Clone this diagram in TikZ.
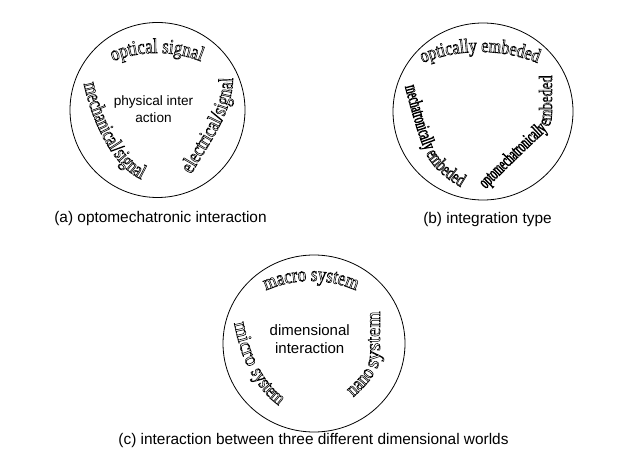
\documentclass[tikz,border=0pt]{standalone}
\usepackage{fontspec}
\usetikzlibrary{decorations.text}
\newfontfamily\capfont{Liberation Sans}
\newfontfamily\srfA[FakeStretch=0.8]{Liberation Serif}
\newfontfamily\srfB[FakeStretch=0.72]{Liberation Serif}
\newfontfamily\srfC[FakeStretch=0.55]{Liberation Serif}
\newfontfamily\srfD[FakeStretch=0.76]{Liberation Serif}
\newfontfamily\srfN{Liberation Serif}
\newcommand\ftA{\srfA\fontsize{21}{22}\selectfont}
\newcommand\ftL{\srfD\fontsize{21}{22}\selectfont}
\newcommand\ftT{\srfA\fontsize{20}{22}\selectfont}
\newcommand\ftC{\srfC\fontsize{19}{22}\selectfont}
\newcommand\ftE{\srfB\fontsize{19}{22}\selectfont}
\newcommand\ftR{\srfD\fontsize{19}{22}\selectfont}
\newcommand\ftM{\srfN\fontsize{20}{22}\selectfont}
\newcommand\ftS{\srfN\fontsize{21}{22}\selectfont}
\makeatletter
\newcommand\outlineon{\pgfsys@invoke{ 1 Tr }}
\makeatother
\tikzset{
  ring/.style={draw=black, line width=0.8pt},
  arctext/.style={decorate, decoration={text along path, text align=center, text={#1}}},
  captext/.style={font=\capfont\fontsize{15.4}{18}\selectfont, inner sep=0pt, anchor=base},
  midtext/.style={align=center, inner sep=0pt, anchor=center},
}
\begin{document}
\begin{tikzpicture}[x=1pt,y=1pt]
\useasboundingbox (0,0) rectangle (636,469);
\fill[white] (0,0) rectangle (636,469);
% circles
\draw[ring] (157.5,359) circle[radius=87.5];
\draw[ring] (483,357.5) ellipse[x radius=90, y radius=88.5];
\draw[ring] (314,125.5) ellipse[x radius=91, y radius=88.5];
% centre texts
\node[midtext, font=\capfont\fontsize{13.6}{17.7}\selectfont] (phys) at (153.5,360) {physical inter\\action};
\node[midtext, font=\capfont\fontsize{15}{17.3}\selectfont] (dimi) at (309.7,129.8) {dimensional\\interaction};
% captions
\node[captext] (capa) at (160.5,247) {(a) optomechatronic interaction};
\node[captext] (capb) at (487.5,246) {(b) integration type};
\node[captext] (capc) at (313.5,25) {(c) interaction between three different dimensional worlds};
% curved outlined texts
\begin{scope}[line width=0.55pt]
\outlineon
% (a)
\path[arctext={|\ftA|optical signal}] (157,297.5) ++(116:118.5) arc[start angle=116, end angle=64, radius=118.5];
\path[arctext={|\ftL|mechanical/signal}] (83,389) .. controls (90,352) and (112,300) .. (145,288);
\path[arctext={|\ftA|electrical/signal}] (190,292) .. controls (205,321) and (234,354) .. (233,394);
% (b)
\path[arctext={|\ftT|optically embeded}] (480,262.4) ++(114:154.6) arc[start angle=114, end angle=66, radius=154.6];
\path[arctext={|\ftC|mechatronically |\ftE|embeded}] (404,386) .. controls (412,355) and (418,335) .. (424,320) .. controls (431,302) and (446,290) .. (464,280);
\path[arctext={|\ftC|optomechatronically |\ftR|embeded}] (484,278) .. controls (510,304) and (535,328) .. (545,337) .. controls (551,343) and (552,350) .. (552,360) -- (552,396);
% (c)
\path[arctext={|\ftA|macro system}] (311,77.2) ++(118:110.8) arc[start angle=118, end angle=62, radius=110.8];
\path[arctext={|\ftM|micro |\ftT|system}] (233,152) .. controls (237,130) and (242,112) .. (250,98) .. controls (258,83) and (268,70) .. (284,60);
\path[arctext={|\ftA|nano |\ftS|system}] (350,69) .. controls (362,79) and (372,90) .. (377,100) .. controls (380,108) and (380,115) .. (380,125) -- (380,162);
\end{scope}
\end{tikzpicture}
\end{document}
